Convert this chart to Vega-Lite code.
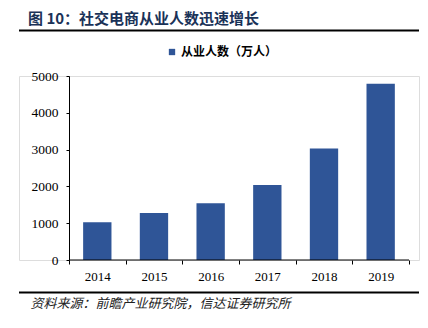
{
  "$schema": "https://vega.github.io/schema/vega-lite/v6.json",
  "width": 400,
  "height": 184,
  "autosize": {"type": "none"},
  "padding": {"left": 19, "top": 76, "right": 9, "bottom": 68},
  "background": "white",
  "title": {
    "text": "图 10：社交电商从业人数迅速增长",
    "anchor": "start",
    "frame": "group",
    "dx": 9,
    "dy": 1,
    "font": "Noto Sans CJK SC",
    "fontSize": 15,
    "fontWeight": "bold",
    "color": "#1a3258"
  },
  "config": {
    "axisY": {
      "values": [0, 1000, 2000, 3000, 4000, 5000],
      "format": "d",
      "labelOverlap": false,
      "labelFlush": false,
      "offset": -50,
      "grid": false,
      "domainColor": "#000000",
      "tickColor": "#000000",
      "tickSize": 3,
      "labelPadding": 8,
      "labelFont": "Liberation Serif",
      "labelFontSize": 13.5,
      "labelColor": "#000000"
    }
  },
  "datasets": {
    "main": [
      {"year": "2014", "value": 1025, "series": "从业人数（万人）"},
      {"year": "2015", "value": 1275, "series": "从业人数（万人）"},
      {"year": "2016", "value": 1545, "series": "从业人数（万人）"},
      {"year": "2017", "value": 2035, "series": "从业人数（万人）"},
      {"year": "2018", "value": 3030, "series": "从业人数（万人）"},
      {"year": "2019", "value": 4790, "series": "从业人数（万人）"}
    ],
    "lines": [{"pos": 6236}, {"pos": -883}],
    "base": [{"a": "2014", "b": "2019", "v": 0}]
  },
  "layer": [
    {
      "data": {"name": "main"},
      "mark": {"type": "bar", "width": {"band": 0.5}},
      "encoding": {
        "x": {
          "field": "year",
          "type": "nominal",
          "scale": {"paddingInner": 0, "paddingOuter": 0.529, "align": 0.8333},
          "axis": {
            "title": "资料来源：前瞻产业研究院，信达证券研究所",
            "titleX": 11,
            "titleY": 43,
            "titleAlign": "left",
            "titleBaseline": "middle",
            "titleAnchor": null,
            "titleFont": "Noto Sans CJK SC",
            "titleFontSize": 13,
            "titleFontStyle": "italic",
            "titleFontWeight": "normal",
            "titleColor": "#222222",
            "domain": false,
            "tickBand": "extent",
            "tickSize": 4,
            "tickColor": "#000000",
            "labelAngle": 0,
            "labelFont": "Liberation Serif",
            "labelFontSize": 13,
            "labelColor": "#000000",
            "labelPadding": 6,
            "grid": false
          }
        },
        "y": {
          "field": "value",
          "type": "quantitative",
          "scale": {"domain": [0, 5000], "nice": false},
          "axis": {"title": null}
        },
        "color": {
          "field": "series",
          "type": "nominal",
          "scale": {"range": ["#2f5597"]},
          "legend": {
            "title": null,
            "orient": "none",
            "legendX": 147,
            "legendY": -30,
            "direction": "horizontal",
            "symbolType": "square",
            "symbolSize": 40,
            "symbolStrokeWidth": 0,
            "labelFont": "Noto Sans CJK SC",
            "labelFontSize": 12,
            "labelFontWeight": "bold",
            "labelColor": "#000000",
            "labelOffset": 3,
            "padding": 0
          }
        }
      }
    },
    {
      "data": {"name": "lines"},
      "mark": {"type": "rule", "color": "#000000", "strokeWidth": 1.8},
      "encoding": {
        "y": {"field": "pos", "type": "quantitative", "axis": {"title": null}}
      }
    },
    {
      "data": {"name": "base"},
      "mark": {"type": "rule", "color": "#000000", "strokeWidth": 1},
      "encoding": {
        "x": {"field": "a", "type": "nominal", "bandPosition": 0},
        "x2": {"field": "b", "bandPosition": 1},
        "y": {"field": "v", "type": "quantitative", "axis": {"title": null}}
      }
    }
  ]
}
